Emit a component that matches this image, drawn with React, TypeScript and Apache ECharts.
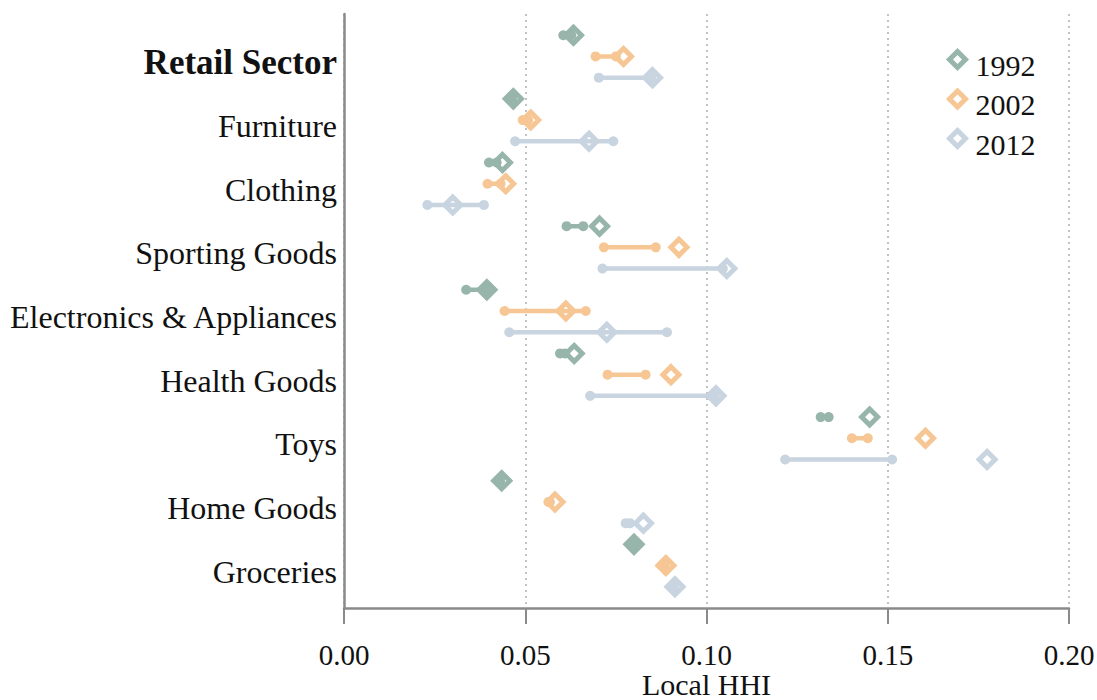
import React, { useEffect, useRef } from 'react';
import * as echarts from 'echarts';

const categories = ['Retail Sector', 'Furniture', 'Clothing', 'Sporting Goods', 'Electronics & Appliances', 'Health Goods', 'Toys', 'Home Goods', 'Groceries'];
const years = ['1992', '2002', '2012'];
const colors = ['#97b5aa', '#f6c795', '#c8d4e0'];

// left end of range, right end of range, diamond marker value
const lo1992 = [0.0605, 0.0463, 0.0400, 0.0614, 0.0337, 0.0596, 0.1315, 0.0430, 0.0799];
const hi1992 = [0.0627, 0.0463, 0.0421, 0.0660, 0.0392, 0.0610, 0.1337, 0.0430, 0.0799];
const mark1992 = [0.0633, 0.0467, 0.0437, 0.0705, 0.0394, 0.0635, 0.1450, 0.0435, 0.0800];

const lo2002 = [0.0694, 0.0493, 0.0396, 0.0717, 0.0443, 0.0727, 0.1401, 0.0564, 0.0884];
const hi2002 = [0.0750, 0.0508, 0.0432, 0.0860, 0.0667, 0.0832, 0.1445, 0.0568, 0.0884];
const mark2002 = [0.0771, 0.0515, 0.0446, 0.0924, 0.0612, 0.0902, 0.1604, 0.0582, 0.0888];

const lo2012 = [0.0703, 0.0472, 0.0230, 0.0713, 0.0456, 0.0679, 0.1217, 0.0777, 0.0909];
const hi2012 = [0.0847, 0.0743, 0.0386, 0.1045, 0.0891, 0.1023, 0.1512, 0.0789, 0.0909];
const mark2012 = [0.0851, 0.0676, 0.0300, 0.1056, 0.0725, 0.1026, 0.1774, 0.0826, 0.0913];

const xTicks = [0, 0.05, 0.1, 0.15, 0.2];

const los = [lo1992, lo2002, lo2012];
const his = [hi1992, hi2002, hi2012];
const marks = [mark1992, mark2002, mark2012];

const FONT = '"Liberation Serif", "DejaVu Serif", serif';

export default function App() {
  const ref = useRef<HTMLDivElement>(null);
  useEffect(() => {
    document.body.style.margin = '0';
    const chart = echarts.init(ref.current!, undefined, { renderer: 'svg' });
    const series: any[] = [];
    years.forEach((yr, yi) => {
      const color = colors[yi];
      series.push({
        name: yr,
        type: 'scatter',
        symbol: 'diamond',
        symbolSize: 16,
        z: 2,
        itemStyle: { color: '#ffffff', borderColor: color, borderWidth: 5, opacity: 1 },
        data: categories.map((_, ci) => [marks[yi][ci], ci * 3 + yi]),
      });
      series.push({
        name: 'range' + yr,
        type: 'custom',
        z: 3,
        encode: { x: [0, 1], y: 2 },
        data: categories.map((_, ci) => [los[yi][ci], his[yi][ci], ci * 3 + yi]),
        renderItem: (params: any, api: any) => {
          const y = api.value(2);
          const p1 = api.coord([api.value(0), y]);
          const p2 = api.coord([api.value(1), y]);
          return {
            type: 'group',
            children: [
              { type: 'line', shape: { x1: p1[0], y1: p1[1], x2: p2[0], y2: p2[1] }, style: { stroke: color, lineWidth: 4.5, lineCap: 'round' } },
              { type: 'circle', shape: { cx: p1[0], cy: p1[1], r: 5 }, style: { fill: color } },
              { type: 'circle', shape: { cx: p2[0], cy: p2[1], r: 5 }, style: { fill: color } },
            ],
          };
        },
      });
    });

    chart.setOption({
      animation: false,
      backgroundColor: '#ffffff',
      grid: { left: 344, right: 28, top: 14, bottom: 92, outerBoundsMode: 'none', containLabel: false },
      legend: {
        orient: 'vertical',
        left: 947,
        top: 39,
        padding: 0,
        itemWidth: 16,
        itemHeight: 16,
        itemGap: -1.5,
        data: years.map((yr, yi) => ({
          name: yr,
          icon: 'diamond',
          itemStyle: { color: '#ffffff', borderColor: colors[yi], borderWidth: 5 },
        })),
        formatter: (name: string) => '{a|' + name + '}',
        textStyle: {
          fontFamily: FONT,
          fontSize: 30,
          color: '#111',
          rich: {
            a: { fontFamily: FONT, fontSize: 30, color: '#111', lineHeight: 24, padding: [11, 0, 0, 5] },
          },
        },
      },
      xAxis: {
        type: 'value',
        min: xTicks[0],
        max: xTicks[xTicks.length - 1],
        interval: 0.05,
        name: 'Local HHI',
        nameLocation: 'middle',
        nameGap: 61,
        nameMoveOverlap: false,
        nameTextStyle: { fontFamily: FONT, fontSize: 30, color: '#111' },
        axisLine: { show: true, onZero: false, lineStyle: { color: '#8a8a8a', width: 2.5 } },
        axisTick: { show: true, length: 16, lineStyle: { color: '#8a8a8a', width: 2 } },
        axisLabel: {
          margin: 32,
          fontFamily: FONT,
          fontSize: 29,
          color: '#111',
          formatter: (v: number) => v.toFixed(2),
        },
        splitLine: { show: true, lineStyle: { color: '#b0b0b0', type: [2, 4], width: 1.5 } },
      },
      yAxis: {
        type: 'value',
        inverse: true,
        min: -1,
        max: 27,
        interval: 1,
        axisLine: { show: true, onZero: false, lineStyle: { color: '#8a8a8a', width: 2.5 } },
        axisTick: { show: false },
        splitLine: { show: false },
        axisLabel: {
          margin: 7,
          fontFamily: FONT,
          fontSize: 32,
          color: '#111',
          padding: [12, 0, 0, 0],
          formatter: (val: number) => {
            const v = Math.round(val);
            if (v < 0 || v % 3 !== 1) return '';
            const c = categories[(v - 1) / 3];
            if (!c) return '';
            return v === 1 ? '{b|' + c + '}' : c;
          },
          rich: {
            b: { fontFamily: FONT, fontSize: 35, fontWeight: 'bold', color: '#111' },
          },
        },
      },
      series,
    });
    return () => chart.dispose();
  }, []);
  return <div ref={ref} style={{ width: 1097, height: 700 }} />;
}
